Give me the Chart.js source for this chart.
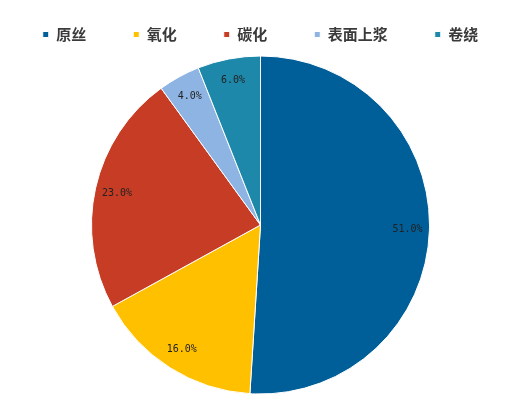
<!DOCTYPE html>
<html>
<head>
<meta charset="utf-8">
<script src="https://cdn.jsdelivr.net/npm/chart.js@4"></script>
<style>
  body { margin: 0; background: #fff; overflow: hidden; }
  #wrap { width: 541px; height: 406px; position: absolute; left: -10px; top: 0; }
</style>
</head>
<body>
<div id="wrap"><canvas id="myChart"></canvas></div>
<script>
const stages = ["原丝", "氧化", "碳化", "表面上浆", "卷绕"];
const shares = [51.0, 16.0, 23.0, 4.0, 6.0];
const sliceColors = ["#005e99", "#ffc000", "#c63c24", "#8db4e2", "#1e88aa"];

// percent labels drawn inside each slice
const sliceLabels = {
     id: "sliceLabels",
     afterDatasetsDraw(chart) {
          const ctx = chart.ctx;
          const meta = chart.getDatasetMeta(0);
          ctx.save();
          ctx.font = "10px 'DejaVu Sans Mono', monospace";
          ctx.fillStyle = "#222";
          ctx.textAlign = "center";
          ctx.textBaseline = "middle";
          meta.data.forEach((arc, i) => {
               const p = arc.getProps(["x", "y", "startAngle", "endAngle", "outerRadius"], true);
               const mid = (p.startAngle + p.endAngle) / 2;
               const r = p.outerRadius * 0.87;
               ctx.fillText(shares[i].toFixed(1) + "%", p.x + Math.cos(mid) * r, p.y + Math.sin(mid) * r);
          });
          ctx.restore();
     }
};

const data = {
     labels: stages,
     datasets: [{
          data: shares,
          backgroundColor: sliceColors,
          borderColor: "#ffffff",
          borderWidth: 1
     }]
};

const config = {
     type: "pie",
     data: data,
     options: {
          responsive: true,
          maintainAspectRatio: false,
          animation: false,
          radius: 169,
          layout: { padding: { top: -20, bottom: 8, left: 0, right: 0 } },
          plugins: {
               legend: {
                    position: "top",
                    labels: {
                         boxWidth: 6,
                         boxHeight: 6,
                         padding: 47,
                         color: "#3a3a3a",
                         font: { family: "'Noto Sans CJK SC'", size: 15, weight: "bold" }
                    }
               },
               tooltip: { enabled: false }
          }
     },
     plugins: [sliceLabels]
};

const myChart = new Chart(document.getElementById("myChart"), config);
</script>
</body>
</html>
